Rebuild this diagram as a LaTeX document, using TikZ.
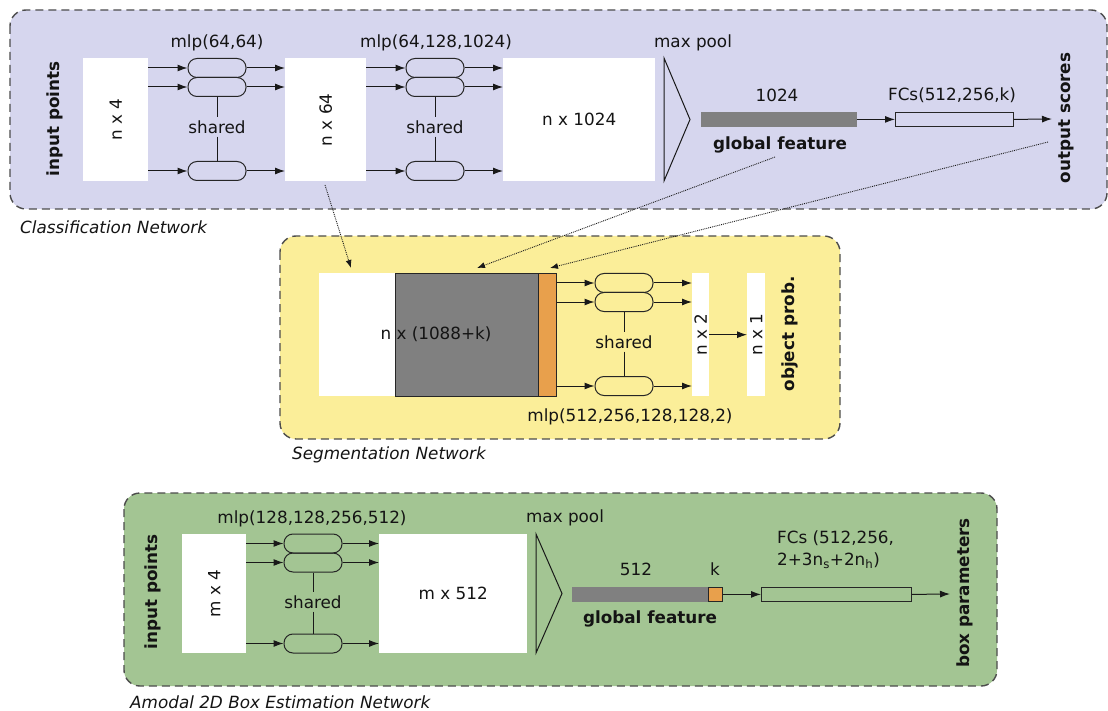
\documentclass[tikz,border=0pt]{standalone}
\usepackage{fontspec}
\setmainfont{DejaVu Sans}
\usetikzlibrary{arrows.meta}
\definecolor{lav}{RGB}{214,214,238}
\definecolor{yel}{RGB}{251,238,153}
\definecolor{grn}{RGB}{163,197,147}
\definecolor{org}{RGB}{232,160,76}
\definecolor{gbar}{RGB}{128,128,128}
\begin{document}
\begin{tikzpicture}[x=1pt,y=-1pt,
  font=\fontsize{16.8}{22}\selectfont,
  txt/.style={text=black!92, inner sep=0pt},
  btxt/.style={txt, font=\fontsize{16.8}{22}\selectfont\bfseries},
  itxt/.style={txt, font=\fontsize{16.8}{22}\selectfont\itshape, anchor=west},
  frame/.style={draw=black!70, dash pattern=on 8pt off 5pt, line width=1.4pt, rounded corners=16pt},
  blk/.style={fill=white, inner sep=0pt, anchor=north west, text=black!92},
  bar/.style={draw=black!85, line width=0.8pt, inner sep=0pt, anchor=north west},
  ov/.style={draw=black!85, line width=1pt, rounded corners=9pt, minimum width=58pt, minimum height=19pt, inner sep=0pt},
  lnk/.style={line width=1pt, draw=black!90},
  arr/.style={-{Latex[length=10pt,width=7pt]}, line width=1pt, draw=black!90},
  dotarr/.style={densely dotted, -{Latex[length=8pt,width=6pt]}, line width=0.9pt, draw=black!90},
  shr/.style={txt, inner sep=3pt}
]
\useasboundingbox (0,0) rectangle (1108,711);

% ---------------- Classification network ----------------
\draw[frame, fill=lav] (10,10) rectangle (1107,209);
\node[itxt] (capA) at (20,227) {Classification Network};
\node[btxt, rotate=90] (inA) at (55,119) {input points};

\node[blk, minimum width=65pt, minimum height=123pt] (a1) at (83,58) {};
\node[txt, rotate=90] (a1t) at (a1.center) {n x 4};

\node[ov] (o1) at (217,68) {};
\node[ov] (o2) at (217,87) {};
\node[ov] (o3) at (217,171) {};
\node[shr] (s1) at (217,127) {shared};
\draw[lnk] (o2.south) -- (s1.north);
\draw[lnk] (s1.south) -- (o3.north);
\node[txt] (m1) at (217,43) {mlp(64,64)};

\node[blk, minimum width=81pt, minimum height=123pt] (b1) at (285,58) {};
\node[txt, rotate=90] (b1t) at (b1.center) {n x 64};

\foreach \o in {o1,o2,o3} {
  \draw[arr] (a1.east |- \o.west) -- (\o.west);
  \draw[arr] (\o.east) -- (\o.east -| b1.west);
}

\node[ov] (o4) at (435,68) {};
\node[ov] (o5) at (435,87) {};
\node[ov] (o6) at (435,171) {};
\node[shr] (s2) at (435,127) {shared};
\draw[lnk] (o5.south) -- (s2.north);
\draw[lnk] (s2.south) -- (o6.north);
\node[txt] (m2) at (436,43) {mlp(64,128,1024)};

\node[blk, minimum width=152pt, minimum height=123pt] (c1) at (503,58) {n x 1024};

\foreach \o in {o4,o5,o6} {
  \draw[arr] (b1.east |- \o.west) -- (\o.west);
  \draw[arr] (\o.east) -- (\o.east -| c1.west);
}

\draw[lnk] (664,58) -- (690,119.5) -- (664,181) -- cycle;
\node[txt] (mp1) at (693,43) {max pool};

\node[bar, fill=gbar, draw=gbar, minimum width=155pt, minimum height=14pt] (g1) at (701,112) {};
\node[txt] (g1n) at (777,95) {1024};
\node[btxt] (g1l) at (780,145) {global feature};

\node[bar, minimum width=118pt, minimum height=14pt] (f1) at (895,112) {};
\node[txt] (f1l) at (952,95) {FCs(512,256,k)};
\coordinate (outA) at (1052,119);
\draw[arr] (g1.east) -- (f1.west);
\draw[arr] (f1.east) -- (outA);
\node[btxt, rotate=90] (osc) at (1066,118) {output scores};

% ---------------- Segmentation network ----------------
\draw[frame, fill=yel] (280,236) rectangle (840,439);
\node[itxt] (capB) at (292,455) {Segmentation Network};

\node[blk, minimum width=76pt, minimum height=123pt] (sw) at (319,273) {};
\node[bar, fill=gbar, minimum width=143pt, minimum height=123pt] (sg) at (395,273) {};
\node[bar, fill=org, minimum width=18pt, minimum height=123pt] (so) at (538,273) {};
\node[txt] (segt) at (436,334) {n x (1088+k)};

\node[ov] (o7) at (624,283) {};
\node[ov] (o8) at (624,302) {};
\node[ov] (o9) at (624,386) {};
\node[shr] (s3) at (624,342) {shared};
\draw[lnk] (o8.south) -- (s3.north);
\draw[lnk] (s3.south) -- (o9.north);
\node[txt] (m3) at (630,417) {mlp(512,256,128,128,2)};

\node[blk, minimum width=17pt, minimum height=123pt] (n2) at (692,273) {};
\node[txt, rotate=90] (n2t) at (n2.center) {n x 2};
\node[blk, minimum width=18pt, minimum height=123pt] (n1) at (747,273) {};
\node[txt, rotate=90] (n1t) at (n1.center) {n x 1};

\foreach \o in {o7,o8,o9} {
  \draw[arr] (so.east |- \o.west) -- (\o.west);
  \draw[arr] (\o.east) -- (\o.east -| n2.west);
}
\draw[arr] (n2.east) -- (n1.west);
\node[btxt, rotate=90] (obj) at (790,334) {object prob.};

% dotted connectors
\coordinate (d1s) at (325,185);
\coordinate (d1e) at (351,268);
\coordinate (d2s) at (775,157);
\coordinate (d2e) at (477,268);
\coordinate (d3s) at (1048,142);
\coordinate (d3e) at (550,268);
\draw[dotarr] (d1s) -- (d1e);
\draw[dotarr] (d2s) -- (d2e);
\draw[dotarr] (d3s) -- (d3e);

% ---------------- Amodal 2D box estimation network ----------------
\draw[frame, fill=grn] (124,493) rectangle (997,686);
\node[itxt] (capC) at (130,702) {Amodal 2D Box Estimation Network};
\node[btxt, rotate=90] (inC) at (153,592) {input points};

\node[blk, minimum width=64pt, minimum height=119pt] (m4) at (182,534) {};
\node[txt, rotate=90] (m4t) at (m4.center) {m x 4};

\node[ov] (p1) at (313,543.5) {};
\node[ov] (p2) at (313,562.5) {};
\node[ov] (p3) at (313,643.5) {};
\node[shr] (s4) at (313,602) {shared};
\draw[lnk] (p2.south) -- (s4.north);
\draw[lnk] (s4.south) -- (p3.north);
\node[txt] (m5) at (312,519) {mlp(128,128,256,512)};

\node[blk, minimum width=148pt, minimum height=119pt] (m512) at (379,534) {m x 512};

\foreach \o in {p1,p2,p3} {
  \draw[arr] (m4.east |- \o.west) -- (\o.west);
  \draw[arr] (\o.east) -- (\o.east -| m512.west);
}

\draw[lnk] (536,534) -- (562,593.5) -- (536,653) -- cycle;
\node[txt] (mp2) at (565,518) {max pool};

\node[bar, fill=gbar, draw=gbar, minimum width=136pt, minimum height=14pt] (g2) at (572,587) {};
\node[bar, fill=org, minimum width=14pt, minimum height=14pt] (g2k) at (708,587) {};
\node[txt] (g2n) at (636,569) {512};
\node[txt] (g2kl) at (715,569) {k};
\node[btxt] (g2l) at (650,619) {global feature};

\node[bar, minimum width=150pt, minimum height=14pt] (f2) at (761,587) {};
\node[txt, anchor=north west, align=left] (f2l) at (777,531) {FCs (512,256,\\2+3n\textsubscript{s}+2n\textsubscript{h})};
\coordinate (outC) at (950,594);
\draw[arr] (g2k.east) -- (f2.west);
\draw[arr] (f2.east) -- (outC);
\node[btxt, rotate=90] (bpar) at (965,593) {box parameters};
\end{tikzpicture}
\end{document}
